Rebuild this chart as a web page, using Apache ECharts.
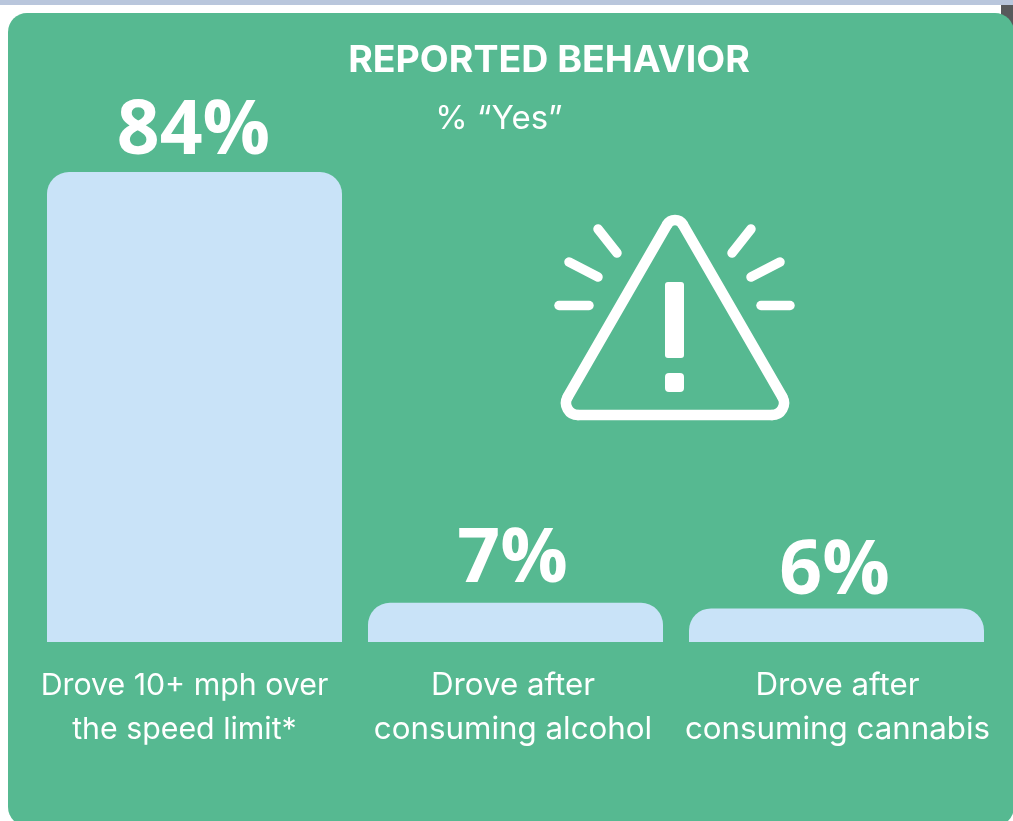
<!DOCTYPE html>
<html>
<head>
<meta charset="utf-8">
<style>
  html, body { margin: 0; padding: 0; background: #fff; }
  #chart { width: 1013px; height: 821px; }
</style>
<script src="https://cdn.jsdelivr.net/npm/echarts@6/dist/echarts.min.js"></script>
</head>
<body>
<div id="chart"></div>
<script>
const categories = ['Drove 10+ mph over\nthe speed limit*', 'Drove after\nconsuming alcohol', 'Drove after\nconsuming cannabis']
const yesValues = [84, 7, 6]

const GREEN = '#56b991'
const BAR = '#c9e3f8'
const FONT = 'Inter, "Noto Sans", sans-serif'

const stroke = lineWidth => ({ stroke: '#fff', fill: 'none', lineWidth, lineCap: 'round' })
const ray = (x1, y1, x2, y2, lineWidth = 9.5) => ({ type: 'line', z: 5, shape: { x1, y1, x2, y2 }, style: stroke(lineWidth) })
const corner = (x1, y1, cpx1, cpy1, cpx2, cpy2, x2, y2) => ({
  type: 'bezierCurve',
  z: 5,
  shape: { x1, y1, cpx1, cpy1, cpx2, cpy2, x2, y2 },
  style: stroke(10.5)
})

// labels are not quite centred under/over their bars in the original
const labelPadding = [[0, 20, 0, 0], [0, 5, 0, 0], [0, 0, 0, 2]]
const labelSize = [30.3, 31.3, 31.3]
const valueOffset = [[-1, 0], [-3, -3], [-2, 4]]

const chart = echarts.init(document.getElementById('chart'))
chart.setOption({
  animation: false,
  backgroundColor: '#fff',
  title: [
    {
      text: 'REPORTED BEHAVIOR',
      left: 544,
      top: 37,
      textAlign: 'center',
      textStyle: { color: '#fff', fontFamily: FONT, fontSize: 37.5, fontWeight: 700 }
    },
    {
      text: '% “Yes”',
      left: 494,
      top: 98,
      textAlign: 'center',
      textStyle: { color: '#fff', fontFamily: FONT, fontSize: 33, fontWeight: 400 }
    }
  ],
  grid: { left: 34, top: 172, width: 963, height: 470 },
  xAxis: {
    type: 'category',
    data: categories.map((value, i) => ({ value, textStyle: { padding: labelPadding[i], fontSize: labelSize[i] } })),
    axisLine: { show: false },
    axisTick: { show: false },
    axisLabel: { color: '#fff', fontFamily: FONT, fontSize: 30, lineHeight: 44, margin: 22, interval: 0 }
  },
  yAxis: { type: 'value', min: 0, max: 84, show: false, splitLine: { show: false } },
  series: [
    {
      name: '% Yes',
      type: 'bar',
      data: yesValues.map((value, i) => ({ value, label: { offset: valueOffset[i] } })),
      barWidth: 295,
      itemStyle: { color: BAR, borderRadius: [22, 22, 0, 0] },
      label: {
        show: true,
        position: 'top',
        distance: 2,
        formatter: '{c}%',
        color: '#fff',
        fontFamily: '"Open Sans", sans-serif',
        fontSize: 75,
        fontWeight: 700
      },
      z: 3
    }
  ],
  graphic: [
    // page behind the card
    { type: 'rect', z: -10, shape: { x: 0, y: 0, width: 1013, height: 5 }, style: { fill: '#b9c6dc' } },
    { type: 'rect', z: -10, shape: { x: 1001, y: 5, width: 12, height: 30 }, style: { fill: '#58595b' } },
    { type: 'rect', z: -9, shape: { x: 8, y: 13, width: 1006, height: 813, r: 19 }, style: { fill: GREEN } },
    // warning icon
    corner(667.2, 224.5, 670.7, 218.5, 679.3, 218.5, 682.8, 224.5),
    ray(682.8, 224.5, 782.4, 397, 10.5),
    corner(782.4, 397, 787, 405, 781.2, 415, 772, 415),
    ray(772, 415, 578, 415, 10.5),
    corner(578, 415, 568.8, 415, 563, 405, 567.6, 397),
    ray(567.6, 397, 667.2, 224.5, 10.5),
    { type: 'rect', z: 5, shape: { x: 665, y: 282, width: 19, height: 76, r: 3 }, style: { fill: '#fff' } },
    { type: 'rect', z: 5, shape: { x: 665, y: 373, width: 19, height: 19, r: 4 }, style: { fill: '#fff' } },
    ray(559, 305.5, 589, 305.5),
    ray(569, 262, 598, 277),
    ray(598, 229, 617, 253),
    ray(761, 305.5, 790, 305.5),
    ray(751, 277, 780, 262),
    ray(732, 253, 751, 229)
  ]
})
</script>
</body>
</html>
